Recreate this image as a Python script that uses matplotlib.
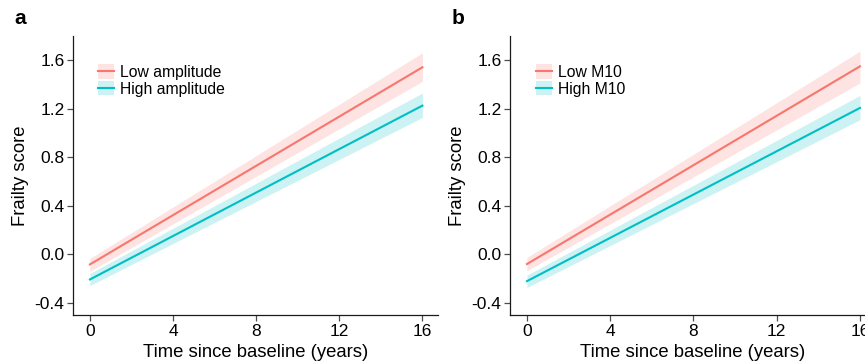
import matplotlib
matplotlib.use("Agg")
import matplotlib.pyplot as plt
from matplotlib.lines import Line2D
from matplotlib.patches import Patch
import numpy as np

plt.rcParams['font.family'] = ['Liberation Sans', 'DejaVu Sans']

# Data (endpoints of fitted lines and confidence bands, at years 0 and 16)
years = [0, 16]
a_labels = ["Low amplitude", "High amplitude"]
a_fit = [[-0.083, 1.542], [-0.207, 1.226]]
a_lo = [[-0.140, 1.426], [-0.257, 1.129]]
a_hi = [[-0.033, 1.661], [-0.157, 1.330]]

b_labels = ["Low M10", "High M10"]
b_fit = [[-0.080, 1.550], [-0.221, 1.207]]
b_lo = [[-0.135, 1.413], [-0.273, 1.110]]
b_hi = [[-0.025, 1.675], [-0.171, 1.310]]

xticks = [0, 4, 8, 12, 16]
yticks = [-0.4, 0.0, 0.4, 0.8, 1.2, 1.6]
ytick_labels = ["-0.4", "0.0", "0.4", "0.8", "1.2", "1.6"]
colors = ["#F8766D", "#00BFC4"]

fig = plt.figure(figsize=(8.65, 3.62), dpi=100)
W, H = 865, 362
positions = [(73.3, 36, 438, 315), (510.3, 36, 875.6, 315)]
panels = [("a", a_labels, a_fit, a_lo, a_hi, 0.068),
          ("b", b_labels, b_fit, b_lo, b_hi, 0.0705)]

for (x0, y0, x1, y1), (letter, labels, fit, lo, hi, legx) in zip(positions, panels):
    ax = fig.add_axes([x0 / W, 1 - y1 / H, (x1 - x0) / W, (y1 - y0) / H])
    handles = []
    for i in range(2):
        ax.fill_between(years, lo[i], hi[i], color=colors[i], alpha=0.2, lw=0)
        ax.plot(years, fit[i], color=colors[i], lw=1.5)
        handles.append((Patch(facecolor=colors[i], alpha=0.2, lw=0),
                        Line2D([], [], color=colors[i], lw=1.5)))
    ax.set_xlim(-0.8, 16.75)
    ax.set_ylim(-0.5, 1.8)
    ax.set_xticks(xticks)
    ax.set_yticks(yticks)
    ax.set_yticklabels(ytick_labels)
    for s in ["top", "right"]:
        ax.spines[s].set_visible(False)
    for s in ["left", "bottom"]:
        ax.spines[s].set_linewidth(0.9)
        ax.spines[s].set_color("#1a1a1a")
    ax.tick_params(axis="both", labelsize=12.5, length=4.3, width=0.9,
                   color="#4d4d4d", labelcolor="black", pad=2)
    ax.set_xlabel("Time since baseline (years)", fontsize=13.3, labelpad=4)
    ax.set_ylabel("Frailty score", fontsize=13.3, labelpad=4)
    ax.legend(handles, labels, loc="upper left", bbox_to_anchor=(legx, 0.898),
              frameon=False, fontsize=11.3, handlelength=1.0, handleheight=1.0,
              handletextpad=0.4, labelspacing=0.1, borderpad=0, borderaxespad=0)
    fig.text((x0 - 59) / W, 1 - 19 / H, letter, fontsize=15, fontweight="bold",
             va="center", ha="left")

fig.savefig("out.png", dpi=100)
